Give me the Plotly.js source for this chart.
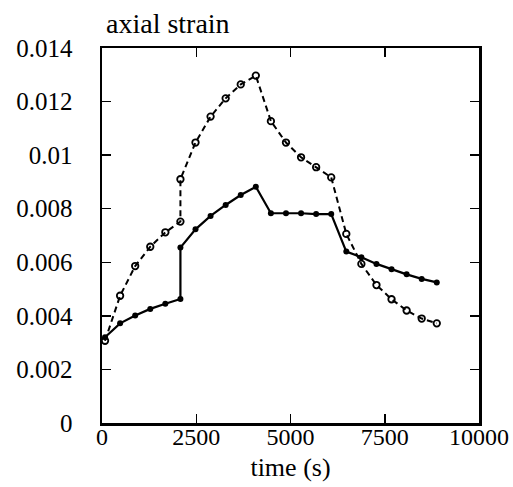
<!DOCTYPE html>
<html>
<head>
<meta charset="utf-8">
<script src="https://cdn.plot.ly/plotly-3.0.1.min.js"></script>
<style>html,body{margin:0;padding:0;background:#fff;}#chart{width:513px;height:487px;}</style>
</head>
<body>
<div id="chart"></div>
<script>
// time (s)
var timeSolid = [80, 480, 880, 1280, 1680, 2080, 2080, 2480, 2880, 3280, 3680, 4080, 4480, 4880, 5280, 5680, 6080, 6480, 6880, 7280, 7680, 8080, 8480, 8880];
var strainSolid = [0.0032, 0.00372, 0.00401, 0.00426, 0.00445, 0.00463, 0.00655, 0.00723, 0.00773, 0.00814, 0.00851, 0.00882, 0.00783, 0.00783, 0.00783, 0.0078, 0.0078, 0.0064, 0.00619, 0.00594, 0.00574, 0.00555, 0.00538, 0.00525];
var timeDashed = [80, 480, 880, 1280, 1680, 2080, 2080, 2480, 2880, 3280, 3680, 4080, 4480, 4880, 5280, 5680, 6080, 6480, 6880, 7280, 7680, 8080, 8480, 8880];
var strainDashed = [0.00307, 0.00475, 0.00586, 0.00658, 0.00712, 0.00752, 0.0091, 0.01047, 0.01144, 0.01212, 0.01264, 0.01297, 0.01127, 0.01047, 0.00992, 0.00955, 0.00917, 0.00706, 0.00594, 0.00515, 0.00462, 0.0042, 0.0039, 0.00372];
var xTickVals = [0, 2500, 5000, 7500, 10000];
var xTickText = ["0", "2500", "5000", "7500", "10000"];
var yTickVals = [0, 0.002, 0.004, 0.006, 0.008, 0.01, 0.012, 0.014];
var yTickText = ["0", "0.002", "0.004", "0.006", "0.008", "0.01", "0.012", "0.014"];

function serif(sz) { return {family: "'Liberation Serif', 'Times New Roman', Times, serif", size: sz, color: "#000000"}; }

var traces = [
  {x: timeDashed, y: strainDashed, mode: "lines+markers", type: "scatter",
   line: {color: "#000", width: 2, dash: "6px,4px"},
   marker: {symbol: "circle-open", size: 6.5, color: "#000", line: {width: 1.8, color: "#000"}},
   showlegend: false},
  {x: timeSolid, y: strainSolid, mode: "lines+markers", type: "scatter",
   line: {color: "#000", width: 2.2},
   marker: {symbol: "circle", size: 6, color: "#000"},
   showlegend: false}
];

var layout = {
  width: 513, height: 487,
  margin: {l: 102, r: 34, t: 48, b: 64},
  paper_bgcolor: "#fff", plot_bgcolor: "#fff",
  font: serif(24),
  title: {text: "axial strain", font: serif(28), x: 106/513, xanchor: "left", xref: "container",
          y: 1 - 23/487, yanchor: "middle", yref: "container"},
  xaxis: {range: [0, 10000], tickvals: xTickVals, ticktext: xTickText,
          ticks: "inside", ticklen: 9, tickwidth: 1.5, tickcolor: "#000",
          showline: true, linewidth: 2.5, linecolor: "#000", mirror: "ticks",
          showgrid: false, zeroline: false, tickfont: serif(24), ticklabelstandoff: -9,
          title: {text: "time (s)", font: serif(26), standoff: 9}},
  yaxis: {range: [0, 0.014], tickvals: yTickVals, ticktext: yTickText,
          ticks: "inside", ticklen: 9, tickwidth: 1.5, tickcolor: "#000",
          showline: true, linewidth: 2.5, linecolor: "#000", mirror: "ticks",
          showgrid: false, zeroline: false, tickfont: serif(25), ticklabelstandoff: 22}
};

Plotly.newPlot("chart", traces, layout, {displayModeBar: false, staticPlot: true});
</script>
</body>
</html>
